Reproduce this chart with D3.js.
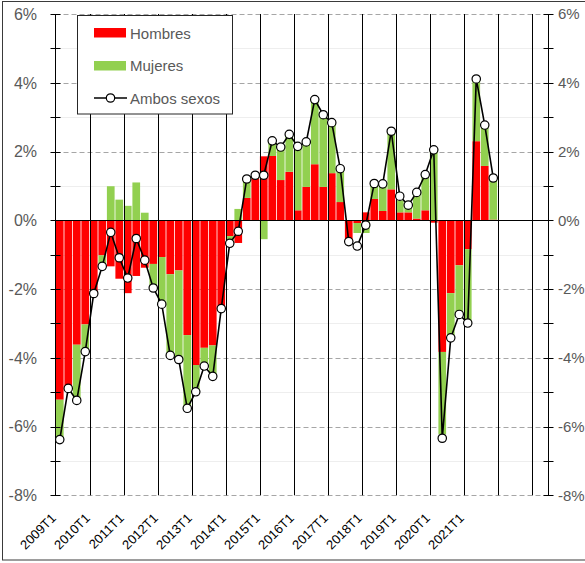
<!DOCTYPE html>
<html>
<head>
<meta charset="utf-8">
<script src="https://cdn.jsdelivr.net/npm/d3@7"></script>
<style>
  html, body { margin: 0; padding: 0; background: #fff; }
  svg { display: block; font-family: "Liberation Sans", Arial, sans-serif; }
</style>
</head>
<body>
<svg id="chart" width="585" height="563"></svg>
<script>
// categories: quarters 2009T1 .. 2023T2 (data only up to 2021T4)
const periods = [];
for (let yr = 2009; yr <= 2023; yr++) {
  for (let q = 1; q <= 4; q++) {
    if (yr === 2023 && q > 2) break;
    periods.push(yr + 'T' + q);
  }
}
const tickLabels = ['2009T1', '2010T1', '2011T1', '2012T1', '2013T1', '2014T1', '2015T1',
  '2016T1', '2017T1', '2018T1', '2019T1', '2020T1', '2021T1'];
const yearStarts = ['2010T1', '2011T1', '2012T1', '2013T1', '2014T1', '2015T1', '2016T1',
  '2017T1', '2018T1', '2019T1', '2020T1', '2021T1', '2022T1', '2023T1'];

// contributions (percentage points)
const hombres = [-5.22, -4.95, -3.62, -3.03, -2.13, -1.02, -1.34, -1.70, -2.12, -1.62, -1.38, -1.27,
  -1.07, -1.57, -1.46, -3.34, -4.21, -3.71, -3.64, -2.57, -0.46, -0.66, 0.65, 1.21,
  1.86, 1.87, 1.17, 1.41, 0.29, 0.97, 1.63, 0.97, 1.37, 0.53, -0.63, -0.08,
  0.23, 0.62, 0.27, 0.90, 0.23, 0.23, 0.05, 0.29, -0.07, -3.83, -2.12, -1.31,
  -0.84, 2.30, 1.58, 0.02];
const mujeres = [-1.16, 0.00, -1.62, -0.79, 0.00, -0.33, 0.99, 0.60, 0.42, 1.10, 0.22, -0.70,
  -1.37, -2.36, -2.59, -2.13, -0.78, -0.53, -0.90, 0.00, -0.21, 0.33, 0.55, 0.10,
  -0.55, 0.44, 0.96, 1.09, 1.86, 1.31, 1.88, 2.10, 1.47, 0.97, 0.00, -0.29,
  -0.37, 0.45, 0.79, 1.69, 0.35, 0.21, 0.82, 1.12, 2.04, -2.40, -1.28, -1.45,
  -2.17, 1.78, 1.19, 1.21];
const ambos = [-6.38, -4.89, -5.24, -3.82, -2.13, -1.34, -0.35, -1.09, -1.68, -0.53, -1.16, -1.97,
  -2.44, -3.93, -4.05, -5.47, -4.99, -4.24, -4.54, -2.57, -0.67, -0.32, 1.20, 1.31,
  1.31, 2.31, 2.13, 2.50, 2.15, 2.28, 3.51, 3.07, 2.84, 1.50, -0.62, -0.75,
  -0.14, 1.07, 1.06, 2.59, 0.70, 0.44, 0.81, 1.33, 2.05, -6.34, -3.42, -2.74,
  -2.99, 4.11, 2.77, 1.23];

const yTicks = [6, 5, 4, 3, 2, 1, 0, -1, -2, -3, -4, -5, -6, -7, -8];

const svg = d3.select('#chart');
const plotLeft = 55.5, plotRight = 548.5, plotTop = 14, plotBottom = 495.3;

const x = d3.scaleBand().domain(periods).range([plotLeft, plotRight]).padding(0);
const y = d3.scaleLinear().domain([-8, 6]).range([plotBottom, plotTop]);
const snap = v => Math.round(v) + 0.5;

// outer frame
svg.append('rect')
  .attr('x', 2.5).attr('y', 1.5)
  .attr('width', 640).attr('height', 558.5)
  .attr('fill', 'none').attr('stroke', '#3a3a3a').attr('stroke-width', 1);

// gridlines
svg.append('g').selectAll('line')
  .data(yTicks.filter(d => d !== 0))
  .enter().append('line')
    .attr('x1', plotLeft).attr('x2', plotRight)
    .attr('y1', d => snap(y(d))).attr('y2', d => snap(y(d)))
    .attr('stroke', d => d % 2 === 0 ? '#a6a6a6' : '#eeeeee')
    .attr('stroke-width', d => d % 2 === 0 ? 1 : 1.2)
    .attr('stroke-dasharray', d => d % 2 === 0 ? '5,3' : null);

// stacked bars
const table = hombres.map((h, i) => ({ period: periods[i], h: h, m: mujeres[i] }));
const series = d3.stack().keys(['h', 'm']).offset(d3.stackOffsetDiverging)(table);
const colors = { h: '#ff0000', m: '#92d050' };

svg.append('g').selectAll('g')
  .data(series)
  .enter().append('g')
    .attr('fill', d => colors[d.key])
  .selectAll('rect')
  .data(d => d)
  .enter().append('rect')
    .attr('x', d => x(d.data.period) + 0.4)
    .attr('width', x.bandwidth() - 0.8)
    .attr('y', d => y(Math.max(d[0], d[1])))
    .attr('height', d => Math.abs(y(d[0]) - y(d[1])));

// zero line
svg.append('line')
  .attr('x1', plotLeft).attr('x2', plotRight)
  .attr('y1', snap(y(0))).attr('y2', snap(y(0)))
  .attr('stroke', '#000').attr('stroke-width', 1);

// year separators
svg.append('g').selectAll('line')
  .data(yearStarts)
  .enter().append('line')
    .attr('x1', d => snap(x(d))).attr('x2', d => snap(x(d)))
    .attr('y1', plotTop).attr('y2', plotBottom)
    .attr('stroke', '#000').attr('stroke-width', 1);

// left / right value axes
const fmt = d => d + '%';
const axisL = svg.append('g');
axisL.append('line')
  .attr('x1', plotLeft).attr('x2', plotLeft).attr('y1', plotTop).attr('y2', plotBottom)
  .attr('stroke', '#000');
axisL.selectAll('.tk').data(yTicks).enter().append('line')
  .attr('x1', plotLeft - 5).attr('x2', plotLeft + 5)
  .attr('y1', d => snap(y(d))).attr('y2', d => snap(y(d)))
  .attr('stroke', '#000');
axisL.selectAll('text').data(yTicks.filter(d => d % 2 === 0)).enter().append('text')
  .attr('x', 37).attr('y', d => y(d))
  .attr('dy', '0.36em')
  .attr('text-anchor', 'end')
  .attr('font-size', 16).attr('fill', '#595959')
  .text(fmt);

const axisR = svg.append('g');
axisR.append('line')
  .attr('x1', plotRight).attr('x2', plotRight).attr('y1', plotTop).attr('y2', plotBottom)
  .attr('stroke', '#000');
axisR.selectAll('.tk').data(yTicks).enter().append('line')
  .attr('x1', plotRight - 5).attr('x2', plotRight + 5)
  .attr('y1', d => snap(y(d))).attr('y2', d => snap(y(d)))
  .attr('stroke', '#000');
axisR.selectAll('text').data(yTicks.filter(d => d % 2 === 0)).enter().append('text')
  .attr('x', 558).attr('y', d => y(d))
  .attr('dy', '0.36em')
  .attr('text-anchor', 'start')
  .attr('font-size', 15).attr('fill', '#595959')
  .text(fmt);

// category labels
svg.append('g').selectAll('text')
  .data(tickLabels)
  .enter().append('text')
    .attr('transform', d => `translate(${x(d) + x.bandwidth() / 2 - 3},519) rotate(-45)`)
    .attr('text-anchor', 'end')
    .attr('font-size', 13).attr('fill', '#000')
    .text(d => d);

// ambos sexos line
const line = d3.line()
  .x((d, i) => x(periods[i]) + x.bandwidth() / 2)
  .y(d => y(d));

svg.append('path')
  .datum(ambos)
  .attr('d', line)
  .attr('fill', 'none').attr('stroke', '#000').attr('stroke-width', 1.6);

svg.append('g').selectAll('circle')
  .data(ambos)
  .enter().append('circle')
    .attr('cx', (d, i) => x(periods[i]) + x.bandwidth() / 2)
    .attr('cy', d => y(d))
    .attr('r', 4.2)
    .attr('fill', '#fff').attr('stroke', '#000').attr('stroke-width', 1.2);

// legend
const lg = svg.append('g');
lg.append('rect')
  .attr('x', 77.5).attr('y', 15.5).attr('width', 155).attr('height', 98.5)
  .attr('fill', '#fff').attr('stroke', '#262626');
lg.append('rect').attr('x', 94).attr('y', 28).attr('width', 32).attr('height', 9.5).attr('fill', colors.h);
lg.append('rect').attr('x', 94).attr('y', 61).attr('width', 32).attr('height', 9.5).attr('fill', colors.m);
lg.append('line').attr('x1', 94).attr('x2', 127).attr('y1', 98).attr('y2', 98)
  .attr('stroke', '#000').attr('stroke-width', 1.6);
lg.append('circle').attr('cx', 110.5).attr('cy', 98).attr('r', 4.2)
  .attr('fill', '#fff').attr('stroke', '#000').attr('stroke-width', 1.2);
lg.selectAll('text')
  .data([['Hombres', 38.5], ['Mujeres', 71], ['Ambos sexos', 103.5]])
  .enter().append('text')
    .attr('x', 130).attr('y', d => d[1])
    .attr('font-size', 15).attr('fill', '#595959')
    .text(d => d[0]);
</script>
</body>
</html>
